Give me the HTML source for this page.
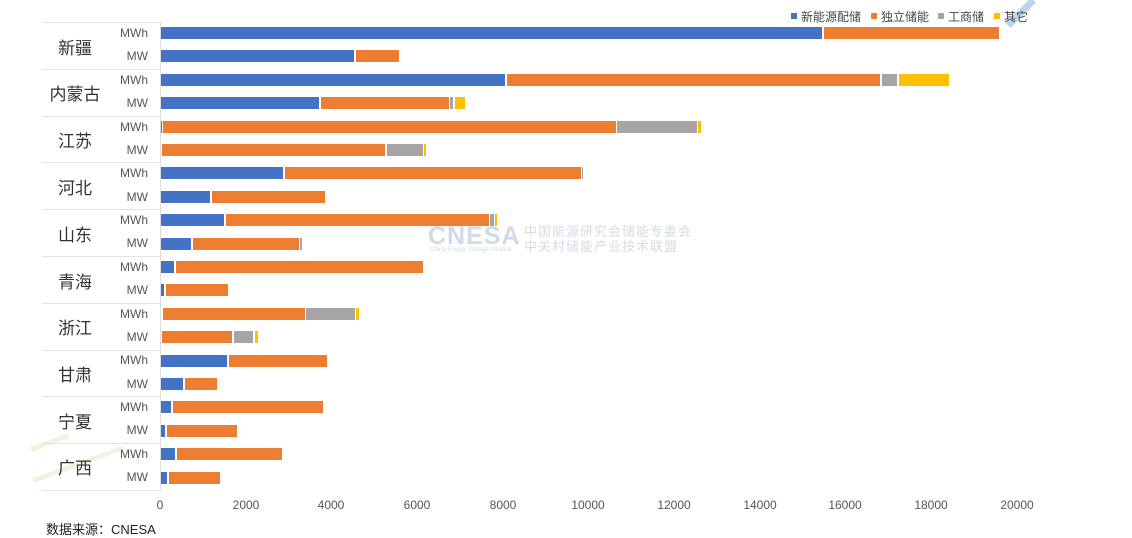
<!DOCTYPE html>
<html><head><meta charset="utf-8"><style>
body{margin:0;width:1132px;height:536px;background:#fff;position:relative;overflow:hidden;font-family:"Liberation Sans","Noto Sans CJK SC",sans-serif}
.b{position:absolute;height:12px}
.B{background:#4472C4}.O{background:#ED7D31}.G{background:#A5A5A5}.Y{background:#FFC000}
.sep{position:absolute;left:42px;width:118px;height:1px;background:#e2e2e2}
.p{position:absolute;left:42px;width:66px;text-align:center;font-size:17px;color:#333}
.u{position:absolute;right:984px;font-size:12px;color:#555}
.t{position:absolute;top:498px;font-size:12px;color:#555;width:60px;margin-left:-30px;text-align:center}
.lg{position:absolute;top:8px;font-size:12px;color:#444}
.lg i{display:inline-block;width:6px;height:6px;margin-right:4px;vertical-align:2px}
</style></head><body>
<div style="position:absolute;left:1008px;top:22px;width:36px;height:7px;background:#bcd4f0;transform:rotate(-45deg);transform-origin:left center"></div>
<div style="position:absolute;left:30px;top:440px;width:40px;height:5px;background:#eef3e2;transform:rotate(-20deg)"></div>
<div style="position:absolute;left:30px;top:462px;width:95px;height:5px;background:#eef3e2;transform:rotate(-20deg)"></div>
<div style="position:absolute;left:160px;top:22px;width:1px;height:468px;background:#ddd"></div>
<div class="sep" style="top:22px"></div><div class="sep" style="top:69px"></div><div class="sep" style="top:116px"></div><div class="sep" style="top:162px"></div><div class="sep" style="top:209px"></div><div class="sep" style="top:256px"></div><div class="sep" style="top:303px"></div><div class="sep" style="top:350px"></div><div class="sep" style="top:396px"></div><div class="sep" style="top:443px"></div><div class="sep" style="top:490px"></div>
<div class="p" style="top:34px">新疆</div><div class="p" style="top:80px">内蒙古</div><div class="p" style="top:127px">江苏</div><div class="p" style="top:174px">河北</div><div class="p" style="top:221px">山东</div><div class="p" style="top:268px">青海</div><div class="p" style="top:314px">浙江</div><div class="p" style="top:361px">甘肃</div><div class="p" style="top:408px">宁夏</div><div class="p" style="top:454px">广西</div>
<div class="u" style="top:26px">MWh</div><div class="u" style="top:49px">MW</div>
<div class="u" style="top:73px">MWh</div><div class="u" style="top:96px">MW</div>
<div class="u" style="top:120px">MWh</div><div class="u" style="top:143px">MW</div>
<div class="u" style="top:166px">MWh</div><div class="u" style="top:190px">MW</div>
<div class="u" style="top:213px">MWh</div><div class="u" style="top:236px">MW</div>
<div class="u" style="top:260px">MWh</div><div class="u" style="top:283px">MW</div>
<div class="u" style="top:307px">MWh</div><div class="u" style="top:330px">MW</div>
<div class="u" style="top:353px">MWh</div><div class="u" style="top:377px">MW</div>
<div class="u" style="top:400px">MWh</div><div class="u" style="top:423px">MW</div>
<div class="u" style="top:447px">MWh</div><div class="u" style="top:470px">MW</div>
<div class="b B" style="top:27px;left:161px;width:661px"></div><div class="b O" style="top:27px;left:824px;width:175px"></div>
<div class="b B" style="top:50px;left:161px;width:193px"></div><div class="b O" style="top:50px;left:356px;width:43px"></div>
<div class="b B" style="top:74px;left:161px;width:344px"></div><div class="b O" style="top:74px;left:507px;width:373px"></div><div class="b G" style="top:74px;left:882px;width:15px"></div><div class="b Y" style="top:74px;left:899px;width:50px"></div>
<div class="b B" style="top:97px;left:161px;width:158px"></div><div class="b O" style="top:97px;left:321px;width:128px"></div><div class="b G" style="top:97px;left:450px;width:3px"></div><div class="b Y" style="top:97px;left:455px;width:10px"></div>
<div class="b B" style="top:121px;left:161px;width:1px"></div><div class="b O" style="top:121px;left:163px;width:453px"></div><div class="b G" style="top:121px;left:617px;width:80px"></div><div class="b Y" style="top:121px;left:698px;width:3px"></div>
<div class="b O" style="top:144px;left:162px;width:223px"></div><div class="b G" style="top:144px;left:387px;width:36px"></div><div class="b Y" style="top:144px;left:424px;width:2px"></div>
<div class="b B" style="top:167px;left:161px;width:122px"></div><div class="b O" style="top:167px;left:285px;width:296px"></div><div class="b G" style="top:167px;left:582px;width:1px"></div>
<div class="b B" style="top:191px;left:161px;width:49px"></div><div class="b O" style="top:191px;left:212px;width:113px"></div>
<div class="b B" style="top:214px;left:161px;width:63px"></div><div class="b O" style="top:214px;left:226px;width:263px"></div><div class="b G" style="top:214px;left:490px;width:4px"></div><div class="b Y" style="top:214px;left:495px;width:2px"></div>
<div class="b B" style="top:238px;left:161px;width:30px"></div><div class="b O" style="top:238px;left:193px;width:106px"></div><div class="b G" style="top:238px;left:300px;width:2px"></div>
<div class="b B" style="top:261px;left:161px;width:13px"></div><div class="b O" style="top:261px;left:176px;width:247px"></div>
<div class="b B" style="top:284px;left:161px;width:3px"></div><div class="b O" style="top:284px;left:166px;width:62px"></div>
<div class="b O" style="top:308px;left:163px;width:142px"></div><div class="b G" style="top:308px;left:306px;width:49px"></div><div class="b Y" style="top:308px;left:356px;width:3px"></div>
<div class="b O" style="top:331px;left:162px;width:70px"></div><div class="b G" style="top:331px;left:234px;width:19px"></div><div class="b Y" style="top:331px;left:255px;width:3px"></div>
<div class="b B" style="top:355px;left:161px;width:66px"></div><div class="b O" style="top:355px;left:229px;width:98px"></div>
<div class="b B" style="top:378px;left:161px;width:22px"></div><div class="b O" style="top:378px;left:185px;width:32px"></div>
<div class="b B" style="top:401px;left:161px;width:10px"></div><div class="b O" style="top:401px;left:173px;width:150px"></div>
<div class="b B" style="top:425px;left:161px;width:4px"></div><div class="b O" style="top:425px;left:167px;width:70px"></div>
<div class="b B" style="top:448px;left:161px;width:14px"></div><div class="b O" style="top:448px;left:177px;width:105px"></div>
<div class="b B" style="top:472px;left:161px;width:6px"></div><div class="b O" style="top:472px;left:169px;width:51px"></div>
<div style="position:absolute;left:428px;top:222px;font-size:25px;font-weight:bold;color:#cfdbe6;letter-spacing:1px">CNESA</div>
<div style="position:absolute;left:430px;top:247px;font-size:6px;color:#cfdbe6">China Energy Storage Alliance</div>
<div style="position:absolute;left:524px;top:224px;font-size:13px;color:#d3dde6;letter-spacing:1px;line-height:15px">中国能源研究会储能专委会<br>中关村储能产业技术联盟</div>
<div class="t" style="left:160px">0</div><div class="t" style="left:246px">2000</div><div class="t" style="left:331px">4000</div><div class="t" style="left:417px">6000</div><div class="t" style="left:503px">8000</div><div class="t" style="left:588px">10000</div><div class="t" style="left:674px">12000</div><div class="t" style="left:760px">14000</div><div class="t" style="left:845px">16000</div><div class="t" style="left:931px">18000</div><div class="t" style="left:1017px">20000</div>
<div style="position:absolute;left:46px;top:519px;font-size:13px;color:#222">数据来源：CNESA</div>
<div class="lg" style="left:791px"><i style="background:#4472C4"></i>新能源配储</div>
<div class="lg" style="left:871px"><i style="background:#ED7D31"></i>独立储能</div>
<div class="lg" style="left:938px"><i style="background:#A5A5A5"></i>工商储</div>
<div class="lg" style="left:994px"><i style="background:#FFC000"></i>其它</div>
</body></html>
